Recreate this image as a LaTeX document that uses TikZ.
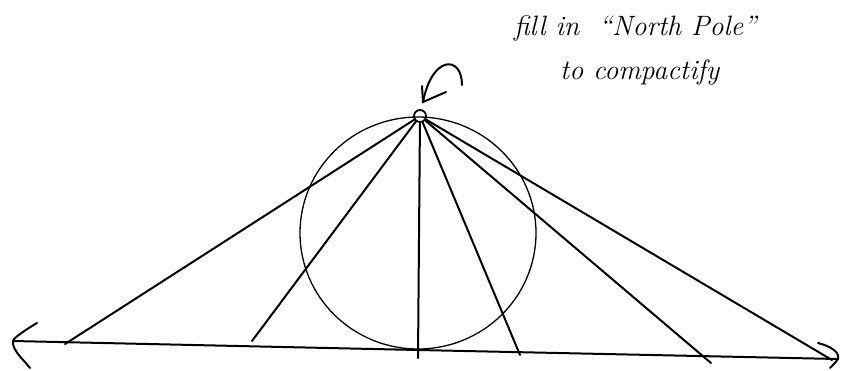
\documentclass[tikz,border=0pt]{standalone}
\usepackage{fontspec}
\begin{document}
\begin{tikzpicture}[x=1pt,y=-1pt,
  ray/.style={line width=2pt,line cap=round},
  thin/.style={line width=1.3pt},
  lbl/.style={font=\fontsize{28}{33}\selectfont\itshape,inner sep=0pt,anchor=west}]
\useasboundingbox (0,0) rectangle (857,370);
% circle
\coordinate (c) at (418,233);
\draw[thin] (c) ellipse [x radius=118, y radius=116];
% north pole
\node[draw,circle,line width=1.8pt,minimum size=12pt,inner sep=0pt] (np) at (420,116) {};
% line endpoints
\coordinate (L) at (13,341);
\coordinate (M) at (418,350);
\coordinate (R) at (838,359);
\coordinate (e1) at (65,344);
\coordinate (e2) at (252,341);
\coordinate (e3) at (418,358);
\coordinate (e4) at (520,355);
\coordinate (e5) at (711,363);
\coordinate (e6) at (832,360);
% horizontal line
\draw[ray] (L) -- (M) -- (R);
\draw[ray,line join=round] (37,323) .. controls (20,333) and (12,340) .. (L) .. controls (12,350) and (22,358) .. (30,368);
\draw[ray,line join=round] (818,343) .. controls (830,346) and (840,352) .. (R) .. controls (836,362) and (832,366) .. (830,368);
% rays
\foreach \e in {e1,e2,e3,e4,e5,e6} \draw[ray] (np) -- (\e);
% curved arrow
\coordinate (a0) at (462,85);
\coordinate (a1) at (423,102);
\draw[ray] (a0) .. controls (462,55) and (432,55) .. (a1);
\draw[ray] (422,86) -- (a1) -- (446,92);
% text
\node[lbl] (t1) at (514,28) {fill in \ ``North Pole''};
\node[lbl] (t2) at (560,72) {to compactify};
\end{tikzpicture}
\end{document}
